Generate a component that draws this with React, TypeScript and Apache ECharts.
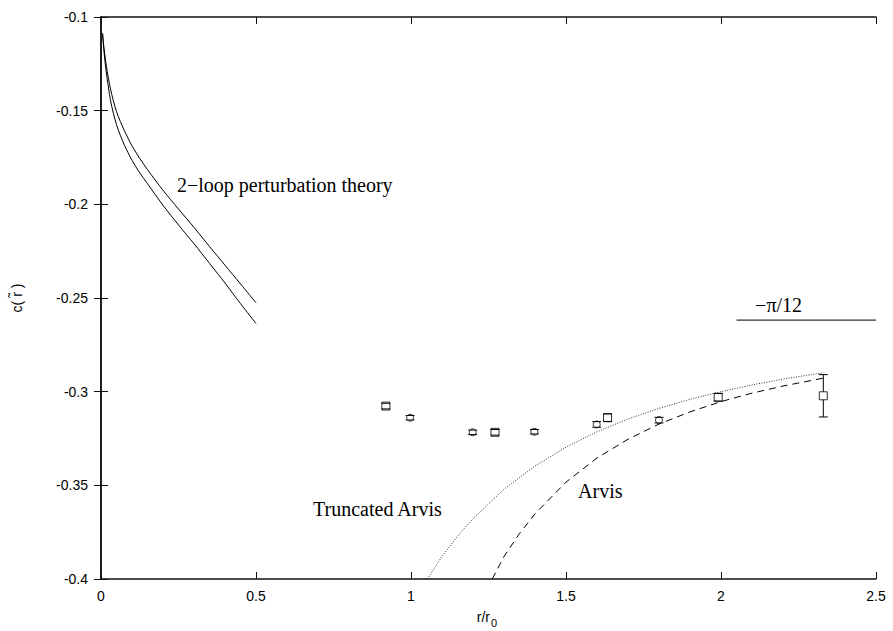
import React, { useEffect, useRef } from "react";
import * as echarts from "echarts";

// ---- tick labels ----
const xTickLabels = ["0", "0.5", "1", "1.5", "2", "2.5"];
const yTickLabels = ["-0.4", "-0.35", "-0.3", "-0.25", "-0.2", "-0.15", "-0.1"];

// ---- 2-loop perturbation theory (two solid curves) ----
const pertR = [0.005, 0.0075, 0.01, 0.015, 0.02, 0.03, 0.04, 0.05, 0.0625, 0.075, 0.1, 0.125, 0.15, 0.2, 0.25, 0.3, 0.35, 0.4, 0.45, 0.5];
const pertUpper = [-0.1087, -0.1132, -0.117, -0.1235, -0.129, -0.138, -0.1448, -0.1505, -0.1558, -0.1605, -0.1688, -0.1755, -0.1815, -0.1925, -0.2025, -0.2123, -0.2225, -0.2325, -0.2425, -0.2525];
const pertLower = [-0.1087, -0.1142, -0.119, -0.1268, -0.133, -0.144, -0.1515, -0.1575, -0.1632, -0.1682, -0.1765, -0.1832, -0.189, -0.2005, -0.211, -0.221, -0.2315, -0.242, -0.253, -0.2636];

// ---- Truncated Arvis (dotted) ----
const truncR = [1.053, 1.1, 1.15, 1.2, 1.3, 1.4, 1.5, 1.6, 1.7, 1.8, 1.9, 2.0, 2.1, 2.2, 2.33];
const truncC = [-0.4, -0.3879, -0.3772, -0.3678, -0.3521, -0.3397, -0.3296, -0.3214, -0.3146, -0.3089, -0.3041, -0.3, -0.2964, -0.2933, -0.2899];

// ---- Arvis (dashed) ----
const arvisR = [1.262, 1.3, 1.35, 1.4, 1.5, 1.6, 1.7, 1.8, 1.9, 2.0, 2.1, 2.2, 2.33];
const arvisC = [-0.4, -0.388, -0.3757, -0.3652, -0.3483, -0.3354, -0.3254, -0.3173, -0.3108, -0.3053, -0.3008, -0.297, -0.2928];

// ---- -pi/12 asymptote ----
const asymR = [2.05, 2.5];
const asymC = [-0.2618, -0.2618];

// ---- data points ----
const squareX = [0.919, 1.271, 1.634, 1.991, 2.33];
const squareY = [-0.3077, -0.3217, -0.3139, -0.303, -0.3022];
const squareErr = [0.0015, 0.0015, 0.002, 0.002, 0.0113];

const circleX = [0.997, 1.199, 1.398, 1.599, 1.8];
const circleY = [-0.3139, -0.3217, -0.3214, -0.3175, -0.3152];
const circleErr = [0.0012, 0.0012, 0.0012, 0.0015, 0.0015];

// ---- annotations (data coordinates of left / middle anchor) ----
const annoText = ["2\u2212loop perturbation theory", "Truncated Arvis", "Arvis", "\u2212\u03c0/12"];
const annoR = [0.245, 0.684, 1.539, 2.11];
const annoC = [-0.1897, -0.3627, -0.3529, -0.2538];

const zip = (a: number[], b: number[]) => a.map((v, i) => [v, b[i]]);

export default function App() {
  const ref = useRef<HTMLDivElement>(null);
  useEffect(() => {
    if (!ref.current) return;
    const chart = echarts.init(ref.current, undefined, { renderer: "svg" });
    const axisColor = "#111";
    const sans = "Liberation Sans, Arial, sans-serif";
    const tickFont = { color: "#000", fontSize: 14, fontFamily: sans };
    const errData = [
      ...squareX.map((x, i) => [x, squareY[i], squareY[i] - squareErr[i], squareY[i] + squareErr[i], 4]),
      ...circleX.map((x, i) => [x, circleY[i], circleY[i] - circleErr[i], circleY[i] + circleErr[i], 3.5]),
    ];
    const xFmt = (v: number) => xTickLabels.find((t) => Math.abs(parseFloat(t) - v) < 1e-9) ?? "";
    const yFmt = (v: number) => yTickLabels.find((t) => Math.abs(parseFloat(t) - v) < 1e-9) ?? "";
    const line = (data: number[][], type: any, color = "#000", smooth: any = false) => ({
      type: "line",
      data,
      symbol: "none",
      smooth,
      lineStyle: { color, width: 1, type },
      z: 2,
    });
    const axisCommon = {
      axisLine: { show: true, lineStyle: { color: axisColor, width: 1.5 } },
      axisTick: { show: true, inside: true, length: 7, lineStyle: { color: axisColor, width: 1 } },
      splitLine: { show: false },
    };
    chart.setOption({
      animation: false,
      backgroundColor: "#fff",
      grid: { left: 101, top: 17, right: 17, bottom: 52, containLabel: false },
      xAxis: [
        { type: "value", min: 0, max: 2.5, interval: 0.5, position: "bottom", ...axisCommon, axisLabel: { ...tickFont, margin: 10, formatter: xFmt } },
        { type: "value", min: 0, max: 2.5, interval: 0.5, position: "top", ...axisCommon, axisLabel: { show: false } },
      ],
      yAxis: [
        { type: "value", min: -0.4, max: -0.1, interval: 0.05, position: "left", ...axisCommon, axisLabel: { ...tickFont, margin: 13, formatter: yFmt } },
        { type: "value", min: -0.4, max: -0.1, interval: 0.05, position: "right", ...axisCommon, axisLabel: { show: false } },
      ],
      series: [
        line(zip(pertR, pertUpper), "solid", "#000", 0.3),
        line(zip(pertR, pertLower), "solid", "#000", 0.3),
        line(zip(truncR, truncC), [1, 1.5], "#333"),
        line(zip(arvisR, arvisC), [7, 5]),
        line(zip(asymR, asymC), "solid"),
        {
          type: "scatter",
          data: zip(squareX, squareY),
          symbol: "rect",
          symbolSize: 8,
          itemStyle: { color: "#fff", borderColor: "#000", borderWidth: 1 },
          z: 3,
        },
        {
          type: "scatter",
          data: zip(circleX, circleY),
          symbol: "circle",
          symbolSize: 7,
          itemStyle: { color: "#fff", borderColor: "#000", borderWidth: 1 },
          z: 3,
        },
        {
          type: "custom",
          data: errData,
          encode: { x: 0, y: [1, 2, 3] },
          z: 4,
          renderItem: (params: any, api: any) => {
            const x = api.value(0);
            const c = api.coord([x, api.value(1)]);
            const lo = api.coord([x, api.value(2)]);
            const hi = api.coord([x, api.value(3)]);
            const half = api.value(4);
            const w = 4.5;
            const st = { stroke: "#000", lineWidth: 1 };
            const children: any[] = [
              { type: "line", shape: { x1: lo[0] - w, y1: lo[1], x2: lo[0] + w, y2: lo[1] }, style: st },
              { type: "line", shape: { x1: hi[0] - w, y1: hi[1], x2: hi[0] + w, y2: hi[1] }, style: st },
            ];
            if (lo[1] > c[1] + half) children.push({ type: "line", shape: { x1: c[0], y1: c[1] + half, x2: lo[0], y2: lo[1] }, style: st });
            if (hi[1] < c[1] - half) children.push({ type: "line", shape: { x1: c[0], y1: c[1] - half, x2: hi[0], y2: hi[1] }, style: st });
            return { type: "group", children };
          },
        },
      ],
    });

    const serif = "Liberation Serif, Times New Roman, serif";
    const annos = annoText.map((t, i) => {
      const p = chart.convertToPixel({ gridIndex: 0 }, [annoR[i], annoC[i]]) as number[];
      return {
        type: "text",
        x: p[0],
        y: p[1],
        style: { text: t, fill: "#000", fontSize: 20, fontFamily: serif, textAlign: "left", textVerticalAlign: "middle" },
        z: 10,
      };
    });
    chart.setOption({
      graphic: [
        ...annos,
        {
          type: "text",
          x: 17,
          y: 298,
          rotation: Math.PI / 2,
          style: { text: "c( r\u0303 )", fill: "#000", fontSize: 14, fontFamily: sans, textAlign: "center", textVerticalAlign: "middle" },
        },
        {
          type: "text",
          x: 490,
          y: 617,
          style: { text: "r/r", fill: "#000", fontSize: 14, fontFamily: sans, textAlign: "right", textVerticalAlign: "middle" },
        },
        {
          type: "text",
          x: 491,
          y: 623,
          style: { text: "0", fill: "#000", fontSize: 11, fontFamily: sans, textAlign: "left", textVerticalAlign: "middle" },
        },
      ],
    });
    return () => chart.dispose();
  }, []);
  return <div ref={ref} style={{ position: "fixed", left: 0, top: 0, width: 893, height: 631, background: "#fff" }} />;
}
